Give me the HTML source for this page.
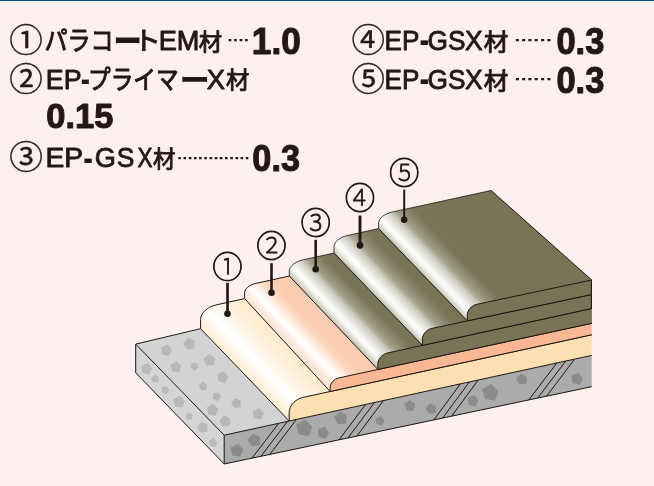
<!DOCTYPE html>
<html lang="ja"><head><meta charset="utf-8"><title>工法図</title>
<style>
html,body{margin:0;padding:0;background:#fef0ee;}
body{width:654px;height:486px;overflow:hidden;}
svg{display:block;will-change:transform;}
text{fill:#231815;}
.jp{font-family:"Liberation Sans","Noto Sans CJK JP",sans-serif;}
.k{font-family:"Noto Sans CJK JP","Liberation Sans",sans-serif;font-weight:400;}
.kb{font-family:"Noto Sans CJK JP","Liberation Sans",sans-serif;font-weight:700;}
.l{font-family:"Liberation Sans","Noto Sans CJK JP",sans-serif;font-weight:400;}
.lb{font-family:"Liberation Sans","Noto Sans CJK JP",sans-serif;font-weight:700;}
.b{font-family:"Liberation Sans","Noto Sans CJK JP",sans-serif;font-weight:700;}
.c{font-family:"Noto Sans CJK JP","Liberation Sans",sans-serif;font-weight:400;}
.c1{font-family:"Noto Sans CJK JP","Liberation Sans",sans-serif;font-weight:100;}
</style></head><body>
<svg width="654" height="486" viewBox="0 0 654 486">
<defs>
<linearGradient id="g1" gradientUnits="userSpaceOnUse" x1="200.6" y1="328.7" x2="233.84" y2="296.9">
<stop offset="0" stop-color="#fdecd3"/>
<stop offset="0.11" stop-color="#fef2dd"/>
<stop offset="0.24" stop-color="#fff9f0"/>
<stop offset="0.37" stop-color="#ffffff"/>
<stop offset="0.5" stop-color="#fffaf2"/>
<stop offset="0.65" stop-color="#fff5e6"/>
<stop offset="0.83" stop-color="#fef0d9"/>
<stop offset="1" stop-color="#feecd0"/>
</linearGradient>
<linearGradient id="g2" gradientUnits="userSpaceOnUse" x1="244.6" y1="298.6" x2="277.84" y2="266.8">
<stop offset="0" stop-color="#fde3d5"/>
<stop offset="0.09" stop-color="#fde9dd"/>
<stop offset="0.17" stop-color="#fef3ec"/>
<stop offset="0.24" stop-color="#ffffff"/>
<stop offset="0.3" stop-color="#fffaf7"/>
<stop offset="0.39" stop-color="#fef0e6"/>
<stop offset="0.52" stop-color="#fcdbc5"/>
<stop offset="0.63" stop-color="#fbd0b5"/>
<stop offset="0.74" stop-color="#fbcdb0"/>
<stop offset="1" stop-color="#fbcdb0"/>
</linearGradient>
<linearGradient id="g3" gradientUnits="userSpaceOnUse" x1="289.3" y1="276" x2="318.21" y2="248.35">
<stop offset="0" stop-color="#c2c1b0"/>
<stop offset="0.07" stop-color="#dad9ce"/>
<stop offset="0.15" stop-color="#f4f4f0"/>
<stop offset="0.2" stop-color="#fcfcfa"/>
<stop offset="0.26" stop-color="#f8f8f5"/>
<stop offset="0.33" stop-color="#ebeae3"/>
<stop offset="0.41" stop-color="#dddcd2"/>
<stop offset="0.51" stop-color="#c8c7b8"/>
<stop offset="0.56" stop-color="#b5b3a0"/>
<stop offset="0.62" stop-color="#a5a28b"/>
<stop offset="0.75" stop-color="#938f76"/>
<stop offset="0.81" stop-color="#8a866b"/>
<stop offset="0.88" stop-color="#827e62"/>
<stop offset="0.95" stop-color="#7c7759"/>
<stop offset="1" stop-color="#7a7457"/>
</linearGradient>
<linearGradient id="g4" gradientUnits="userSpaceOnUse" x1="334" y1="253" x2="362.91" y2="225.35">
<stop offset="0" stop-color="#c2c1b0"/>
<stop offset="0.07" stop-color="#dad9ce"/>
<stop offset="0.15" stop-color="#f4f4f0"/>
<stop offset="0.2" stop-color="#fcfcfa"/>
<stop offset="0.26" stop-color="#f8f8f5"/>
<stop offset="0.33" stop-color="#ebeae3"/>
<stop offset="0.41" stop-color="#dddcd2"/>
<stop offset="0.51" stop-color="#c8c7b8"/>
<stop offset="0.56" stop-color="#b5b3a0"/>
<stop offset="0.62" stop-color="#a5a28b"/>
<stop offset="0.75" stop-color="#938f76"/>
<stop offset="0.81" stop-color="#8a866b"/>
<stop offset="0.88" stop-color="#827e62"/>
<stop offset="0.95" stop-color="#7c7759"/>
<stop offset="1" stop-color="#7a7457"/>
</linearGradient>
<linearGradient id="g5" gradientUnits="userSpaceOnUse" x1="378.6" y1="228.6" x2="407.51" y2="200.95">
<stop offset="0" stop-color="#c2c1b0"/>
<stop offset="0.07" stop-color="#dad9ce"/>
<stop offset="0.15" stop-color="#f4f4f0"/>
<stop offset="0.2" stop-color="#fcfcfa"/>
<stop offset="0.26" stop-color="#f8f8f5"/>
<stop offset="0.33" stop-color="#ebeae3"/>
<stop offset="0.41" stop-color="#dddcd2"/>
<stop offset="0.51" stop-color="#c8c7b8"/>
<stop offset="0.56" stop-color="#b5b3a0"/>
<stop offset="0.62" stop-color="#a5a28b"/>
<stop offset="0.75" stop-color="#938f76"/>
<stop offset="0.81" stop-color="#8a866b"/>
<stop offset="0.88" stop-color="#827e62"/>
<stop offset="0.95" stop-color="#7c7759"/>
<stop offset="1" stop-color="#7a7457"/>
</linearGradient>
<linearGradient id="gf" gradientUnits="userSpaceOnUse" x1="224" y1="0" x2="340" y2="0"><stop offset="0" stop-color="#c1c1c1"/><stop offset="1" stop-color="#b0b0b0"/></linearGradient>
</defs>
<rect width="654" height="486" fill="#fef0ee"/>
<rect width="654" height="1" fill="#1c4a78"/>
<rect y="1" width="654" height="1" fill="#e0fbff"/>
<rect y="2" width="654" height="1" fill="#f4f2f8"/>
<path d="M135.7,344.1 L240.6,320.81 L329.2,412.52 L224.2,435.2 Z" fill="#d3d3d3"/>
<path d="M135.7,344.1 L224.2,435.2 L224.2,464 L135.7,372.8 Z" fill="#d5d5d5"/>
<path d="M224.2,435.2 L591.7,355.4 L591.7,386.7 L224.2,464 Z" fill="#aaabab"/>
<path d="M167.37,344.56 L171.89,349.81 L168.99,356.12 L162.24,354.52 L160.88,347.72Z M187.72,337.83 L194.41,340.85 L194.44,348.18 L187.26,349.67 L182.92,343.76Z M176.43,361.19 L181.4,366.03 L179.06,372.56 L172.2,371.56 L170.25,364.9Z M196.78,362.52 L198.53,367.14 L195.06,370.64 L190.93,367.93 L191.68,363.06Z M209.03,353.93 L215.1,358.07 L213.86,365.3 L206.52,365.52 L203.28,358.94Z M224.19,371.47 L228.24,377.1 L224.8,383.13 L218.21,380.95 L217.45,374.06Z M203.3,381.78 L207.43,385.16 L206.07,390.32 L200.75,390.01 L198.81,385.04Z M218.41,392.16 L221.14,396.75 L218.1,401.14 L213.2,399.03 L213.08,393.69Z M235.46,398.05 L240.81,401.06 L240.3,407.17 L234.21,407.89 L231.02,402.64Z M213.37,404.11 L218.17,409.3 L215.44,415.82 L208.5,414.44 L206.88,407.56Z M224,415.18 L230.28,418.42 L229.95,425.48 L222.96,426.56 L219.08,420.65Z M259.5,407.88 L263.92,413.4 L260.74,419.71 L253.92,417.85 L252.78,410.87Z" fill="#b6b7b7"/>
<path d="M148.29,363.07 L152.34,368.7 L148.9,374.73 L142.31,372.55 L141.55,365.66Z M154.44,374.7 L158.75,377.11 L158.34,382.03 L153.44,382.61 L150.88,378.39Z M166.79,386.2 L169.31,390.44 L166.5,394.5 L161.97,392.55 L161.86,387.61Z M179.67,395.53 L184.92,400.66 L182.44,407.56 L175.18,406.51 L173.13,399.46Z M189.1,412.37 L192.71,415.33 L191.53,419.84 L186.87,419.57 L185.17,415.22Z M201.37,422.1 L207.45,424.84 L207.49,431.51 L200.95,432.87 L197.01,427.49Z M213.82,438.35 L217.3,442.4 L215.07,447.24 L209.88,446.02 L208.83,440.78Z" fill="#b9baba"/>
<path d="M238.03,443.73 L243.25,449.79 L239.9,457.06 L232.11,455.22 L230.55,447.38Z M253.37,433.43 L260.35,437.34 L259.69,445.32 L251.74,446.25 L247.59,439.41Z M305.07,419.48 L312.23,426.47 L308.86,435.89 L298.96,434.44 L296.15,424.84Z M325.32,426.8 L329.07,433.11 L324.89,439.14 L318.15,436.24 L317.99,428.9Z M340.38,411.25 L347,415.75 L345.64,423.64 L337.65,423.88 L334.1,416.71Z M380.86,416.12 L384.52,420.37 L382.17,425.45 L376.72,424.17 L375.62,418.67Z M410,400.1 L415.16,404.32 L413.47,410.77 L406.81,410.39 L404.39,404.18Z M429.97,403.3 L436.05,406.04 L436.09,412.71 L429.55,414.07 L425.61,408.69Z M474.39,395.07 L478.44,400.7 L475,406.73 L468.41,404.55 L467.65,397.66Z M491.17,383.98 L498.33,390.97 L494.96,400.39 L485.06,398.94 L482.25,389.34Z M520.98,373.69 L526.79,376.95 L526.24,383.6 L519.62,384.38 L516.16,378.68Z M578.35,372.65 L582.94,378.38 L579.64,384.93 L572.56,383 L571.38,375.75Z" fill="#8a8b8b"/>
<path d="M252,458.15 L278.6,423.39 M260.9,456.28 L287.5,421.45 M269.8,454.41 L296.4,419.52 M339,439.85 L365.6,404.5 M347.9,437.98 L374.5,402.56 M356.8,436.11 L383.4,400.63 M433.8,419.91 L460.4,383.91 M442.7,418.04 L469.3,381.98 M451.6,416.17 L478.2,380.05 M528.8,399.93 L556.8,362.98 M537.7,398.06 L565.7,361.05 M546.6,396.19 L574.6,359.11" fill="none" stroke="#1c1513" stroke-width="1.0"/>
<path d="M200.6,328.7 L135.7,344.1 L135.7,372.8 L224.2,464 L591.7,386.7 M135.7,344.1 L224.2,435.2 L224.2,464 M224.2,435.2 L289.2,421" fill="none" stroke="#1c1513" stroke-width="1.0" stroke-linejoin="round"/>
<path d="M200.6,328.7 L200.6,319.37 C200.6,313.32 207.35,306.87 215.6,305.04 L258.6,295.49 L344.2,388.46 L302.7,397.46 C295.27,399.07 289.2,405.79 289.2,412.39 L289.2,421 Z" fill="url(#g1)"/>
<path d="M289.2,421 L289.2,412.39 C289.2,405.79 295.27,399.07 302.7,397.46 L591.7,334.8 L591.7,355.4 Z" fill="#fce0b1"/>
<path d="M200.6,328.7 L200.6,319.37 C200.6,313.32 207.35,306.87 215.6,305.04 L244.6,298.6" fill="none" stroke="#1c1513" stroke-width="1.0"/>
<path d="M200.6,328.7 L289.2,421 L289.2,412.39 C289.2,405.79 295.27,399.07 302.7,397.46 L591.7,334.8 M289.2,421 L591.7,355.4" fill="none" stroke="#1c1513" stroke-width="1.0" stroke-linejoin="round"/>
<path d="M244.6,298.6 L244.6,292.42 C244.6,288.85 249.55,284.82 255.6,283.48 L303.3,272.89 L391.9,366.47 L338.7,377.97 C334.02,378.98 330.2,383.18 330.2,387.31 L330.2,391.5 Z" fill="url(#g2)"/>
<path d="M330.2,391.5 L330.2,387.31 C330.2,383.18 334.02,378.98 338.7,377.97 L591.7,323.3 L591.7,334.8 Z" fill="#f9b794"/>
<path d="M244.6,298.6 L244.6,292.42 C244.6,288.85 249.55,284.82 255.6,283.48 L289.3,276" fill="none" stroke="#1c1513" stroke-width="1.0"/>
<path d="M244.6,298.6 L330.2,391.5 L330.2,387.31 C330.2,383.18 334.02,378.98 338.7,377.97 L591.7,323.3 M330.2,391.5 L591.7,334.8" fill="none" stroke="#1c1513" stroke-width="1.0" stroke-linejoin="round"/>
<path d="M289.3,276 L289.3,270.92 C289.3,266.52 295.15,261.62 302.3,260.04 L348,249.89 L436.4,342.35 L387.4,353.03 C382.17,354.17 377.9,358.92 377.9,363.6 L377.9,369.5 Z" fill="url(#g3)"/>
<path d="M377.9,369.5 L377.9,363.6 C377.9,358.92 382.17,354.17 387.4,353.03 L591.7,308.5 L591.7,323.3 Z" fill="#7a7457"/>
<path d="M289.3,276 L289.3,270.92 C289.3,266.52 295.15,261.62 302.3,260.04 L334,253" fill="none" stroke="#1c1513" stroke-width="0.8"/>
<path d="M289.3,276 L377.9,369.5 L377.9,363.6 C377.9,358.92 382.17,354.17 387.4,353.03 L591.7,308.5 M377.9,369.5 L591.7,323.3" fill="none" stroke="#1c1513" stroke-width="1.0" stroke-linejoin="round"/>
<path d="M334,253 L334,246.5 C334,242.1 339.85,237.2 347,235.62 L392.6,225.49 L481.3,317.93 L431.9,328.41 C426.67,329.52 422.4,334.25 422.4,338.93 L422.4,345.4 Z" fill="url(#g4)"/>
<path d="M422.4,345.4 L422.4,338.93 C422.4,334.25 426.67,329.52 431.9,328.41 L591.7,294.5 L591.7,308.5 Z" fill="#7a7457"/>
<path d="M334,253 L334,246.5 C334,242.1 339.85,237.2 347,235.62 L378.6,228.6" fill="none" stroke="#1c1513" stroke-width="0.8"/>
<path d="M334,253 L422.4,345.4 L422.4,338.93 C422.4,334.25 426.67,329.52 431.9,328.41 L591.7,294.5 M422.4,345.4 L591.7,308.5" fill="none" stroke="#1c1513" stroke-width="1.0" stroke-linejoin="round"/>
<path d="M378.6,228.6 L378.6,223 C378.6,218.6 384.45,213.73 391.6,212.17 L491.1,190.5 L591.7,280 L476.8,304.36 C471.57,305.47 467.3,310.2 467.3,314.87 L467.3,320.9 Z" fill="url(#g5)"/>
<path d="M467.3,320.9 L467.3,314.87 C467.3,310.2 471.57,305.47 476.8,304.36 L591.7,280 L591.7,294.5 Z" fill="#7a7457"/>
<path d="M378.6,228.6 L378.6,223 C378.6,218.6 384.45,213.73 391.6,212.17 L491.1,190.5" fill="none" stroke="#1c1513" stroke-width="0.8"/>
<path d="M378.6,228.6 L467.3,320.9 L467.3,314.87 C467.3,310.2 471.57,305.47 476.8,304.36 L591.7,280 M467.3,320.9 L591.7,294.5" fill="none" stroke="#1c1513" stroke-width="1.0" stroke-linejoin="round"/>
<path d="M491.1,190.5 L591.7,280" fill="none" stroke="#1c1513" stroke-width="1.0"/>
<path d="M591.4,280 L591.4,308.5" fill="none" stroke="#1c1513" stroke-width="1.1"/>
<path d="M591.4,308.5 L591.4,323.3" fill="none" stroke="#1c1513" stroke-width="0.5" stroke-opacity="0.5"/>
<path d="M227.5,282.9 V313.8" stroke="#231815" stroke-width="2.7" fill="none"/>
<circle cx="227.5" cy="313.8" r="3.3" fill="#231815"/>
<path d="M271.5,263.2 V292.8" stroke="#231815" stroke-width="2.6" fill="none"/>
<circle cx="271.5" cy="292.8" r="3.3" fill="#231815"/>
<path d="M315.7,239.8 V269.3" stroke="#231815" stroke-width="2.6" fill="none"/>
<circle cx="315.7" cy="269.3" r="3.3" fill="#231815"/>
<path d="M360,215.5 V245.4" stroke="#231815" stroke-width="2.9" fill="none"/>
<circle cx="360" cy="245.4" r="3.3" fill="#231815"/>
<path d="M404.2,189.6 V219.8" stroke="#231815" stroke-width="2.0" fill="none"/>
<circle cx="404.2" cy="219.8" r="3.3" fill="#231815"/>
<text transform="translate(212.289 278.198) scale(1 1)" font-size="30.421" class="c1" stroke="#231815" stroke-width="0.852" stroke-linejoin="round">①</text>
<text transform="translate(256.289 256.598) scale(1 1)" font-size="30.421" class="c1" stroke="#231815" stroke-width="0.852" stroke-linejoin="round">②</text>
<text transform="translate(300.489 233.598) scale(1 1)" font-size="30.421" class="c1" stroke="#231815" stroke-width="0.852" stroke-linejoin="round">③</text>
<text transform="translate(344.789 209.298) scale(1 1)" font-size="30.421" class="c1" stroke="#231815" stroke-width="0.852" stroke-linejoin="round">④</text>
<text transform="translate(388.989 184.198) scale(1 1)" font-size="30.421" class="c1" stroke="#231815" stroke-width="0.852" stroke-linejoin="round">⑤</text>
<g><text transform="translate(9.353 52.081) scale(1.007 1)" font-size="33.272" class="c" stroke="#231815" stroke-width="0.399" stroke-linejoin="round">①</text><text transform="translate(44.493 50.2) scale(0.899 1)" font-size="25.6" class="k" stroke="#231815" stroke-width="1.024" stroke-linejoin="round">パラコ</text><text transform="translate(113.288 55.468) scale(0.779 1)" font-size="37.12" class="kb">ー</text><text transform="translate(133.616 50.2) scale(1.069 1)" font-size="25.6" class="k" stroke="#231815" stroke-width="1.024" stroke-linejoin="round">ト</text><text transform="translate(158.633 49.864) scale(1.011 1)" font-size="26.852" class="l" stroke="#231815" stroke-width="0.859" stroke-linejoin="round">EM</text><text transform="translate(198.654 49.678) scale(1.007 1)" font-size="23.216" class="k" stroke="#231815" stroke-width="0.929" stroke-linejoin="round">材</text>
<text transform="translate(227.336 47.305) scale(0.589 1)" font-size="18.526" class="k">╍╍</text>
<text transform="translate(251.844 54.375) scale(0.949 1)" font-size="37.017" class="b" stroke="#231815" stroke-width="1.111" stroke-linejoin="round">1.0</text></g>
<g><text transform="translate(9.353 90.881) scale(1.007 1)" font-size="33.272" class="c" stroke="#231815" stroke-width="0.399" stroke-linejoin="round">②</text><text transform="translate(45.857 88.664) scale(0.998 1)" font-size="26.852" class="l" stroke="#231815" stroke-width="0.859" stroke-linejoin="round">EP</text><text transform="translate(80.661 90.811) scale(0.748 1)" font-size="37.053" class="lb">-</text><text transform="translate(88.055 89) scale(0.884 1)" font-size="25.6" class="k" stroke="#231815" stroke-width="1.024" stroke-linejoin="round">プライマ</text><text transform="translate(179.45 91.592) scale(0.913 1)" font-size="33.28" class="kb">ー</text><text transform="translate(206.829 88.664) scale(1.021 1)" font-size="26.852" class="l" stroke="#231815" stroke-width="0.859" stroke-linejoin="round">X</text><text transform="translate(226.054 88.478) scale(1.007 1)" font-size="23.216" class="k" stroke="#231815" stroke-width="0.929" stroke-linejoin="round">材</text></g>
<g><text transform="translate(46.337 128.008) scale(0.968 1)" font-size="35.661" class="b" stroke="#231815" stroke-width="1.07" stroke-linejoin="round">0.15</text></g>
<g><text transform="translate(9.347 168.681) scale(1.013 1)" font-size="33.272" class="c" stroke="#231815" stroke-width="0.399" stroke-linejoin="round">③</text><text transform="translate(45.562 167.264) scale(1.05 1)" font-size="26.852" class="l" stroke="#231815" stroke-width="0.859" stroke-linejoin="round">EP</text><text transform="translate(83.202 169.611) scale(0.79 1)" font-size="37.053" class="lb">-</text><text transform="translate(94.782 167.222) scale(1.001 1)" font-size="27.119" class="l" stroke="#231815" stroke-width="0.868" stroke-linejoin="round">G</text><text transform="translate(116.775 167.222) scale(0.973 1)" font-size="27.119" class="l" stroke="#231815" stroke-width="0.868" stroke-linejoin="round">S</text><text transform="translate(137.459 167.264) scale(0.84 1)" font-size="26.852" class="l" stroke="#231815" stroke-width="0.859" stroke-linejoin="round">X</text><text transform="translate(153.06 166.778) scale(0.963 1)" font-size="23.216" class="k" stroke="#231815" stroke-width="0.929" stroke-linejoin="round">材</text>
<text transform="translate(177.002 165.205) scale(0.561 1)" font-size="18.526" class="k">╍╍╍╍╍╍╍</text>
<text transform="translate(252.344 171.075) scale(0.925 1)" font-size="37.017" class="b" stroke="#231815" stroke-width="1.111" stroke-linejoin="round">0.3</text></g>
<g><text transform="translate(351.553 52.301) scale(1.013 1)" font-size="33.06" class="c" stroke="#231815" stroke-width="0.397" stroke-linejoin="round">④</text><text transform="translate(384.502 50.064) scale(0.974 1)" font-size="26.852" class="l" stroke="#231815" stroke-width="0.859" stroke-linejoin="round">EP</text><text transform="translate(419.417 53.116) scale(0.73 1)" font-size="39.579" class="lb">-</text><text transform="translate(427.515 50.022) scale(0.968 1)" font-size="27.119" class="l" stroke="#231815" stroke-width="0.868" stroke-linejoin="round">GS</text><text transform="translate(465.034 50.064) scale(0.987 1)" font-size="26.852" class="l" stroke="#231815" stroke-width="0.859" stroke-linejoin="round">X</text><text transform="translate(483.646 49.878) scale(1.06 1)" font-size="23.216" class="k" stroke="#231815" stroke-width="0.929" stroke-linejoin="round">材</text>
<text transform="translate(514.227 47.205) scale(0.679 1)" font-size="18.526" class="k">╍╍╍</text>
<text transform="translate(556.439 54.375) scale(0.931 1)" font-size="37.017" class="b" stroke="#231815" stroke-width="1.111" stroke-linejoin="round">0.3</text></g>
<g><text transform="translate(351.553 91.201) scale(1.013 1)" font-size="33.06" class="c" stroke="#231815" stroke-width="0.397" stroke-linejoin="round">⑤</text><text transform="translate(384.502 88.964) scale(0.974 1)" font-size="26.852" class="l" stroke="#231815" stroke-width="0.859" stroke-linejoin="round">EP</text><text transform="translate(419.417 92.016) scale(0.73 1)" font-size="39.579" class="lb">-</text><text transform="translate(427.515 88.922) scale(0.968 1)" font-size="27.119" class="l" stroke="#231815" stroke-width="0.868" stroke-linejoin="round">GS</text><text transform="translate(465.034 88.964) scale(0.987 1)" font-size="26.852" class="l" stroke="#231815" stroke-width="0.859" stroke-linejoin="round">X</text><text transform="translate(483.646 88.778) scale(1.06 1)" font-size="23.216" class="k" stroke="#231815" stroke-width="0.929" stroke-linejoin="round">材</text>
<text transform="translate(514.227 86.105) scale(0.679 1)" font-size="18.526" class="k">╍╍╍</text>
<text transform="translate(556.439 93.275) scale(0.931 1)" font-size="37.017" class="b" stroke="#231815" stroke-width="1.111" stroke-linejoin="round">0.3</text></g>
</svg>
</body></html>
